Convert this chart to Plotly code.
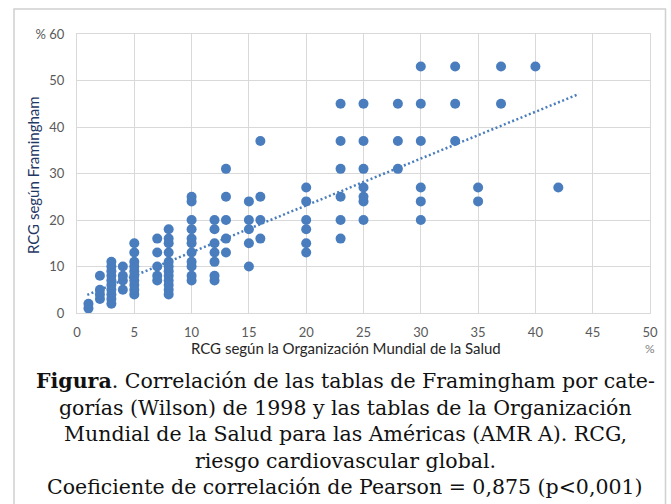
import plotly.graph_objects as go

# RCG según OMS (x) y RCG según Framingham (y), %
who_rcg = (
    [1, 1] +
    [2, 2, 2, 2] +
    [3] * 10 +
    [4] * 4 +
    [5] * 10 +
    [7] * 5 +
    [8] * 12 +
    [10] * 11 +
    [12] * 7 +
    [13] * 5 +
    [15] * 5 +
    [16] * 4 +
    [20] * 6 +
    [23] * 6 +
    [25] * 7 +
    [28] * 3 +
    [30] * 6 +
    [33] * 3 +
    [35] * 2 +
    [37] * 2 +
    [40] +
    [42]
)
fram_rcg = (
    [1, 2] +
    [3, 4, 5, 8] +
    [2, 3, 4, 5, 6, 7, 8, 9, 10, 11] +
    [5, 7, 8, 10] +
    [4, 5, 6, 7, 8, 9, 10, 11, 13, 15] +
    [7, 8, 10, 13, 16] +
    [4, 5, 6, 7, 8, 9, 10, 11, 13, 15, 16, 18] +
    [7, 8, 10, 11, 13, 15, 16, 18, 20, 24, 25] +
    [7, 8, 11, 13, 15, 18, 20] +
    [13, 16, 20, 25, 31] +
    [10, 15, 18, 20, 24] +
    [16, 20, 25, 37] +
    [13, 15, 18, 20, 24, 27] +
    [16, 20, 25, 31, 37, 45] +
    [20, 24, 25, 27, 31, 37, 45] +
    [31, 37, 45] +
    [20, 24, 27, 37, 45, 53] +
    [37, 45, 53] +
    [24, 27] +
    [45, 53] +
    [53] +
    [27]
)

# Línea de tendencia
trend_x = [0.9, 43.8]
trend_y = [3.9, 47.1]

x_ticks = [0, 5, 10, 15, 20, 25, 30, 35, 40, 45, 50]
y_ticks = [0, 10, 20, 30, 40, 50, 60]
y_ticktext = ["0", "10", "20", "30", "40", "50", "% 60"]

caption_lines = [
    "<b>Figura</b>. Correlación de las tablas de Framingham por cate-",
    "gorías (Wilson) de 1998 y las tablas de la Organización",
    "Mundial de la Salud para las Américas (AMR A). RCG,",
    "riesgo cardiovascular global.",
    "Coeficiente de correlación de Pearson = 0,875 (p&lt;0,001)",
]

W, H = 671, 504
L, R, T, B = 77, 21, 34, 191
PW = W - L - R
PH = H - T - B

def px_x(p):
    return (p - L) / PW

def px_y(p):
    return (H - B - p) / PH

BLUE = "#4A7DBD"
GRID = "#D9D9D9"
TICKC = "#595959"
FONT = "Lato, Open Sans, sans-serif"

fig = go.Figure()
fig.add_trace(go.Scatter(
    x=trend_x, y=trend_y, mode="lines",
    line=dict(color=BLUE, width=2.5, dash="2px,2.5px"),
    hoverinfo="skip", showlegend=False,
))
fig.add_trace(go.Scatter(
    x=who_rcg, y=fram_rcg, mode="markers",
    marker=dict(color=BLUE, size=10, line=dict(width=0)),
    showlegend=False,
))

fig.update_layout(
    width=W, height=H,
    margin=dict(l=L, r=R, t=T, b=B, pad=0),
    paper_bgcolor="white", plot_bgcolor="white",
    font=dict(family=FONT, size=13, color=TICKC),
    xaxis=dict(
        range=[0, 50], tickvals=x_ticks, ticktext=[str(v) for v in x_ticks],
        showgrid=True, gridcolor=GRID, gridwidth=1, zeroline=False,
        showline=True, linecolor=GRID, linewidth=1, mirror=True,
        ticks="", ticklabelstandoff=7,
        tickfont=dict(family=FONT, size=13, color=TICKC),
    ),
    yaxis=dict(
        range=[0, 60], tickvals=y_ticks, ticktext=y_ticktext,
        showgrid=True, gridcolor=GRID, gridwidth=1, zeroline=False,
        showline=True, linecolor=GRID, linewidth=1, mirror=True,
        ticks="", ticklabelstandoff=9,
        tickfont=dict(family=FONT, size=13, color=TICKC),
    ),
)

# Outer border of the figure
fig.add_shape(type="rect", xref="paper", yref="paper",
              x0=px_x(14), x1=px_x(665.5), y0=px_y(520), y1=px_y(9),
              line=dict(color="#D0D0D0", width=1.5), fillcolor="rgba(0,0,0,0)",
              layer="below")

# Axis titles
fig.add_annotation(x=px_x(346), y=px_y(348), xref="paper", yref="paper",
                   text="RCG según la Organización Mundial de la Salud",
                   showarrow=False, xanchor="center", yanchor="middle",
                   font=dict(family=FONT, size=15, color="#262626"))
fig.add_annotation(x=px_x(650), y=px_y(348), xref="paper", yref="paper",
                   text="%", showarrow=False, xanchor="center", yanchor="middle",
                   font=dict(family=FONT, size=12, color="#808080"))
fig.add_annotation(x=px_x(33), y=px_y(175), xref="paper", yref="paper",
                   text="RCG según Framingham", textangle=-90,
                   showarrow=False, xanchor="center", yanchor="middle",
                   font=dict(family=FONT, size=15, color="#1F3864"))

# Caption
cap_y = [381, 407.5, 434, 460.5, 487]
for txt, yy in zip(caption_lines, cap_y):
    fig.add_annotation(x=px_x(345), y=px_y(yy), xref="paper", yref="paper",
                       text=txt, showarrow=False, xanchor="center", yanchor="middle",
                       font=dict(family="DejaVu Serif, serif", size=20.5, color="#111111"))

fig.write_html("out.html",
               config={"displayModeBar": False},
               post_script="document.body.style.margin='0';document.body.style.padding='0';")
